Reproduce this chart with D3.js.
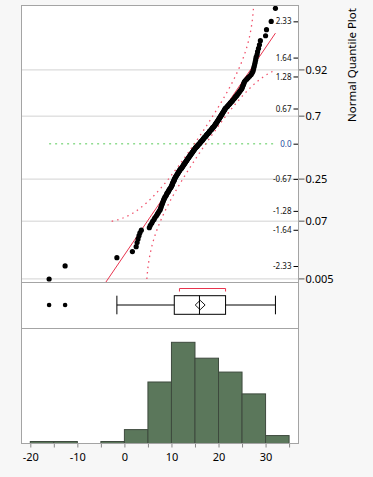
<!DOCTYPE html>
<html>
<head>
<meta charset="utf-8">
<script src="https://cdn.jsdelivr.net/npm/d3@7"></script>
<style>
  body { margin: 0; background: #f7f7f7; }
  text { font-family: "Noto Sans", sans-serif; }
</style>
</head>
<body>
<div id="chart"></div>
<script>

var width = 373;
var height = 477;

var values = [
  -16.0, -12.6, -1.6,
  1.7, 2.5, 2.7, 2.9, 3.1, 3.3, 3.6,
  5.3, 5.5, 5.8, 6.0, 6.3, 6.5, 6.8, 7.0, 7.2, 7.4, 7.6,
  7.7, 7.8, 7.9, 8.0, 8.1, 8.2, 8.3, 8.4, 8.5, 8.6,
  8.8, 8.9, 9.0, 9.1, 9.3, 9.4, 9.5, 9.6, 9.8, 9.9,
  10.0, 10.1, 10.2, 10.2, 10.3, 10.4, 10.5, 10.6, 10.6, 10.7,
  10.8, 10.9, 11.0, 11.1, 11.2, 11.3, 11.4, 11.5, 11.6, 11.7, 11.8, 11.9,
  12.1, 12.2, 12.3, 12.4, 12.5, 12.6, 12.7, 12.8, 12.9, 13.0,
  13.1, 13.2, 13.3, 13.4, 13.5, 13.6, 13.7, 13.8, 13.9, 14.0,
  14.1, 14.2, 14.3, 14.4, 14.5, 14.6, 14.7, 14.8, 14.9,
  15.0, 15.1, 15.2, 15.4, 15.5, 15.6, 15.7, 15.9, 16.0,
  16.1, 16.2, 16.3, 16.5, 16.6, 16.7, 16.8, 16.9, 17.0,
  17.2, 17.3, 17.4, 17.5, 17.6, 17.8, 17.9, 18.0, 18.1, 18.2,
  18.4, 18.5, 18.6, 18.7, 18.8, 19.0, 19.1, 19.2, 19.3, 19.4,
  19.5, 19.6, 19.7, 19.8, 19.9,
  20.0, 20.1, 20.2, 20.3, 20.4, 20.5, 20.6, 20.7, 20.8, 20.9,
  21.0, 21.1, 21.2, 21.3, 21.4,
  21.5, 21.7, 21.9, 22.0, 22.2, 22.4, 22.5, 22.7, 22.9, 23.0,
  23.2, 23.4, 23.5, 23.7, 23.9, 24.0, 24.2, 24.4, 24.5, 24.7, 24.9,
  25.0, 25.1, 25.2, 25.3, 25.4, 25.5, 25.7,
  26.0, 26.3, 26.6, 26.9, 27.1, 27.3,
  27.4, 27.5, 27.6, 27.7, 27.8, 27.9, 28.0, 28.2, 28.3, 28.5, 28.7, 28.9,
  30.0, 30.2, 31.2, 32.1
];

// normal fit + Lilliefors band
var fitMean = 16.1;
var fitSD = 7.6;
var bandD = 0.063;
var bandRange = [-2.8, 32.1];

// box plot summary: whisker lo, q1, median, q3, whisker hi
var boxFive = [-1.6, 10.6, 15.95, 21.5, 32.1];
var outliers = [-16.0, -12.6];
var meanDiamond = [15.05, 16.1, 17.15];
var shortestHalf = [11.7, 21.5];

var xTicks = [-20, -15, -10, -5, 0, 5, 10, 15, 20, 25, 30, 35];
var binEdges = [-20, -15, -10, -5, 0, 5, 10, 15, 20, 25, 30, 35];
var zTicks = [2.33, 1.64, 1.28, 0.67, 0, -0.67, -1.28, -1.64, -2.33];
var zLabels = ["2.33", "1.64", "1.28", "0.67", "0.0", "-0.67", "-1.28", "-1.64", "-2.33"];
var probTicks = [0.005, 0.07, 0.25, 0.7, 0.92];
var probLabels = ["0.005", "0.07", "0.25", "0.7", "0.92"];

// normal helpers
function qnorm(p) {
  var a = [-3.969683028665376e+01, 2.209460984245205e+02, -2.759285104469687e+02, 1.383577518672690e+02, -3.066479806614716e+01, 2.506628277459239e+00];
  var b = [-5.447609879822406e+01, 1.615858368580409e+02, -1.556989798598866e+02, 6.680131188771972e+01, -1.328068155288572e+01];
  var c = [-7.784894002430293e-03, -3.223964580411365e-01, -2.400758277161838e+00, -2.549732539343734e+00, 4.374664141464968e+00, 2.938163982698783e+00];
  var d = [7.784695709041462e-03, 3.224671290700398e-01, 2.445134137142996e+00, 3.754408661907416e+00];
  var q, r;
  if (p < 0.02425) {
    q = Math.sqrt(-2 * Math.log(p));
    return (((((c[0]*q+c[1])*q+c[2])*q+c[3])*q+c[4])*q+c[5]) / ((((d[0]*q+d[1])*q+d[2])*q+d[3])*q+1);
  } else if (p > 1 - 0.02425) {
    q = Math.sqrt(-2 * Math.log(1 - p));
    return -(((((c[0]*q+c[1])*q+c[2])*q+c[3])*q+c[4])*q+c[5]) / ((((d[0]*q+d[1])*q+d[2])*q+d[3])*q+1);
  }
  q = p - 0.5; r = q * q;
  return (((((a[0]*r+a[1])*r+a[2])*r+a[3])*r+a[4])*r+a[5])*q / (((((b[0]*r+b[1])*r+b[2])*r+b[3])*r+b[4])*r+1);
}

var L = 21.5, R = 298.5, T = 5.5, qB = 282.5, bB = 328.5, hB = 443.5;

var x = d3.scaleLinear().domain([-21.87, 37.0]).range([L, R]);
var qy = d3.scaleLinear().domain([-2.644, 2.632]).range([qB, T]);
var hy = d3.scaleLinear().domain([0, 57.96]).range([hB, bB]);

var svg = d3.select("#chart")
  .append("svg")
  .attr("width", width)
  .attr("height", height);

// white plot area
svg.append("rect")
  .attr("x", L).attr("y", T)
  .attr("width", R - L).attr("height", hB - T)
  .attr("fill", "#fff");

svg.append("clipPath").attr("id", "qclip")
  .append("rect")
  .attr("x", L).attr("y", T)
  .attr("width", R - L).attr("height", qB - T);

// ---- normal quantile plot ----
var n = values.length;
var pts = values.map(function(v, i) {
  return { v: v, z: qnorm((i + 1) / (n + 1)) };
});

var q = svg.append("g").attr("clip-path", "url(#qclip)");

q.selectAll(".grid")
  .data(probTicks)
  .enter().append("line")
  .attr("x1", L).attr("x2", R)
  .attr("y1", function(p) { return qy(qnorm(p)); })
  .attr("y2", function(p) { return qy(qnorm(p)); })
  .attr("stroke", "#d2d2d2")
  .attr("stroke-width", 1);

// z = 0 reference
var vExt = d3.extent(values);
q.append("line")
  .attr("x1", x(vExt[0])).attr("x2", x(vExt[1]))
  .attr("y1", qy(0)).attr("y2", qy(0))
  .attr("stroke", "#8fdc8f")
  .attr("stroke-width", 1.5)
  .attr("stroke-dasharray", "2,4");

// confidence bands
var upper = [], lower = [];
pts.forEach(function(d, i) {
  var p = (i + 1) / (n + 1);
  if (p - bandD > 0) {
    var vu = fitMean + fitSD * qnorm(p - bandD);
    if (vu >= bandRange[0] && vu <= bandRange[1]) upper.push([vu, d.z]);
  }
  if (p + bandD < 1) {
    var vl = fitMean + fitSD * qnorm(p + bandD);
    if (vl >= bandRange[0] && vl <= bandRange[1]) lower.push([vl, d.z]);
  }
});

var bandLine = d3.line()
  .x(function(d) { return x(d[0]); })
  .y(function(d) { return qy(d[1]); })
  .curve(d3.curveMonotoneY);

[upper, lower].forEach(function(b) {
  q.append("path")
    .datum(b)
    .attr("d", bandLine)
    .attr("fill", "none")
    .attr("stroke", "#f0506a")
    .attr("stroke-width", 1.3)
    .attr("stroke-dasharray", "1.5,4");
});

// fit line
q.append("line")
  .attr("x1", x(vExt[0])).attr("y1", qy((vExt[0] - fitMean) / fitSD))
  .attr("x2", x(vExt[1])).attr("y2", qy((vExt[1] - fitMean) / fitSD))
  .attr("stroke", "#e8344e")
  .attr("stroke-width", 1);

q.selectAll(".pt")
  .data(pts)
  .enter().append("circle")
  .attr("cx", function(d) { return x(d.v); })
  .attr("cy", function(d) { return qy(d.z); })
  .attr("r", 2.6)
  .attr("fill", "#000");

// inner z axis
var zAxis = d3.axisLeft(qy)
  .tickValues(zTicks)
  .tickFormat(function(d, i) { return zLabels[i]; })
  .tickSize(5)
  .tickPadding(2);

var zg = svg.append("g")
  .attr("transform", "translate(" + R + ",0)")
  .call(zAxis);
zg.select(".domain").remove();
zg.selectAll("line").attr("stroke", "#000");
zg.selectAll("text")
  .attr("font-size", 8)
  .attr("font-family", "Noto Sans, sans-serif")
  .attr("fill", function(d) { return d === 0 ? "#1e4a9e" : "#111"; });

// right probability axis
var pg = svg.append("g");
pg.selectAll("line")
  .data(probTicks)
  .enter().append("line")
  .attr("x1", R).attr("x2", R + 6)
  .attr("y1", function(p) { return qy(qnorm(p)); })
  .attr("y2", function(p) { return qy(qnorm(p)); })
  .attr("stroke", "#555");
pg.selectAll("text")
  .data(probTicks)
  .enter().append("text")
  .attr("x", R + 7)
  .attr("y", function(p) { return qy(qnorm(p)); })
  .attr("dy", "0.36em")
  .attr("font-size", 11)
  .attr("fill", "#000")
  .text(function(p, i) { return probLabels[i]; });

svg.append("text")
  .attr("transform", "translate(355.5,65) rotate(-90)")
  .attr("text-anchor", "middle")
  .attr("font-size", 11.5)
  .attr("fill", "#000")
  .text("Normal Quantile Plot");

// ---- box plot ----
var by = 305, bh = 9.3;
var bx = svg.append("g").attr("stroke", "#000").attr("fill", "none");

bx.append("line")
  .attr("x1", x(boxFive[0])).attr("x2", x(boxFive[1]))
  .attr("y1", by).attr("y2", by);
bx.append("line")
  .attr("x1", x(boxFive[3])).attr("x2", x(boxFive[4]))
  .attr("y1", by).attr("y2", by);
[boxFive[0], boxFive[4]].forEach(function(v) {
  bx.append("line")
    .attr("x1", x(v)).attr("x2", x(v))
    .attr("y1", by - bh).attr("y2", by + bh);
});
bx.append("rect")
  .attr("x", x(boxFive[1])).attr("y", by - bh)
  .attr("width", x(boxFive[3]) - x(boxFive[1]))
  .attr("height", 2 * bh);
bx.append("line")
  .attr("x1", x(boxFive[2])).attr("x2", x(boxFive[2]))
  .attr("y1", by - bh).attr("y2", by + bh);

// mean diamond
bx.append("path")
  .attr("d", "M" + x(meanDiamond[0]) + "," + by +
             "L" + x(meanDiamond[1]) + "," + (by - 4.7) +
             "L" + x(meanDiamond[2]) + "," + by +
             "L" + x(meanDiamond[1]) + "," + (by + 4.7) + "Z")
  .attr("stroke-width", 0.9);

// shortest half bracket
svg.append("path")
  .attr("d", "M" + x(shortestHalf[0]) + ",291.5V288.5H" + x(shortestHalf[1]) + "V291.5")
  .attr("fill", "none")
  .attr("stroke", "#e8344e")
  .attr("stroke-width", 1);

svg.selectAll(".out")
  .data(outliers)
  .enter().append("circle")
  .attr("cx", function(d) { return x(d); })
  .attr("cy", by)
  .attr("r", 2.3)
  .attr("fill", "#000");

// ---- histogram ----
var bins = d3.bin()
  .domain([binEdges[0], binEdges[binEdges.length - 1]])
  .thresholds(binEdges.slice(1, -1))(values);

svg.selectAll(".bar")
  .data(bins.filter(function(b) { return b.length > 0; }))
  .enter().append("rect")
  .attr("x", function(b) { return x(b.x0); })
  .attr("y", function(b) { return hy(b.length); })
  .attr("width", function(b) { return x(b.x1) - x(b.x0); })
  .attr("height", function(b) { return hB - hy(b.length); })
  .attr("fill", "#5b775b")
  .attr("stroke", "#3e4a3e")
  .attr("stroke-width", 1);

var xAxis = d3.axisBottom(x)
  .tickValues(xTicks)
  .tickFormat(function(d) { return d % 10 === 0 ? String(d) : ""; })
  .tickSize(4)
  .tickPadding(6);

var xg = svg.append("g")
  .attr("transform", "translate(0," + hB + ")")
  .call(xAxis);
xg.select(".domain").remove();
xg.selectAll("line").attr("stroke", "#888");
xg.selectAll("text")
  .attr("font-size", 11)
  .attr("font-family", "Noto Sans, sans-serif")
  .attr("fill", "#000");

// ---- frame ----
var fr = svg.append("g").attr("stroke", "#a4a4a4").attr("fill", "none");
fr.append("rect")
  .attr("x", L).attr("y", T)
  .attr("width", R - L).attr("height", hB - T);
[qB, bB].forEach(function(yy) {
  fr.append("line").attr("x1", L).attr("x2", R).attr("y1", yy).attr("y2", yy);
});

</script>
</body>
</html>
